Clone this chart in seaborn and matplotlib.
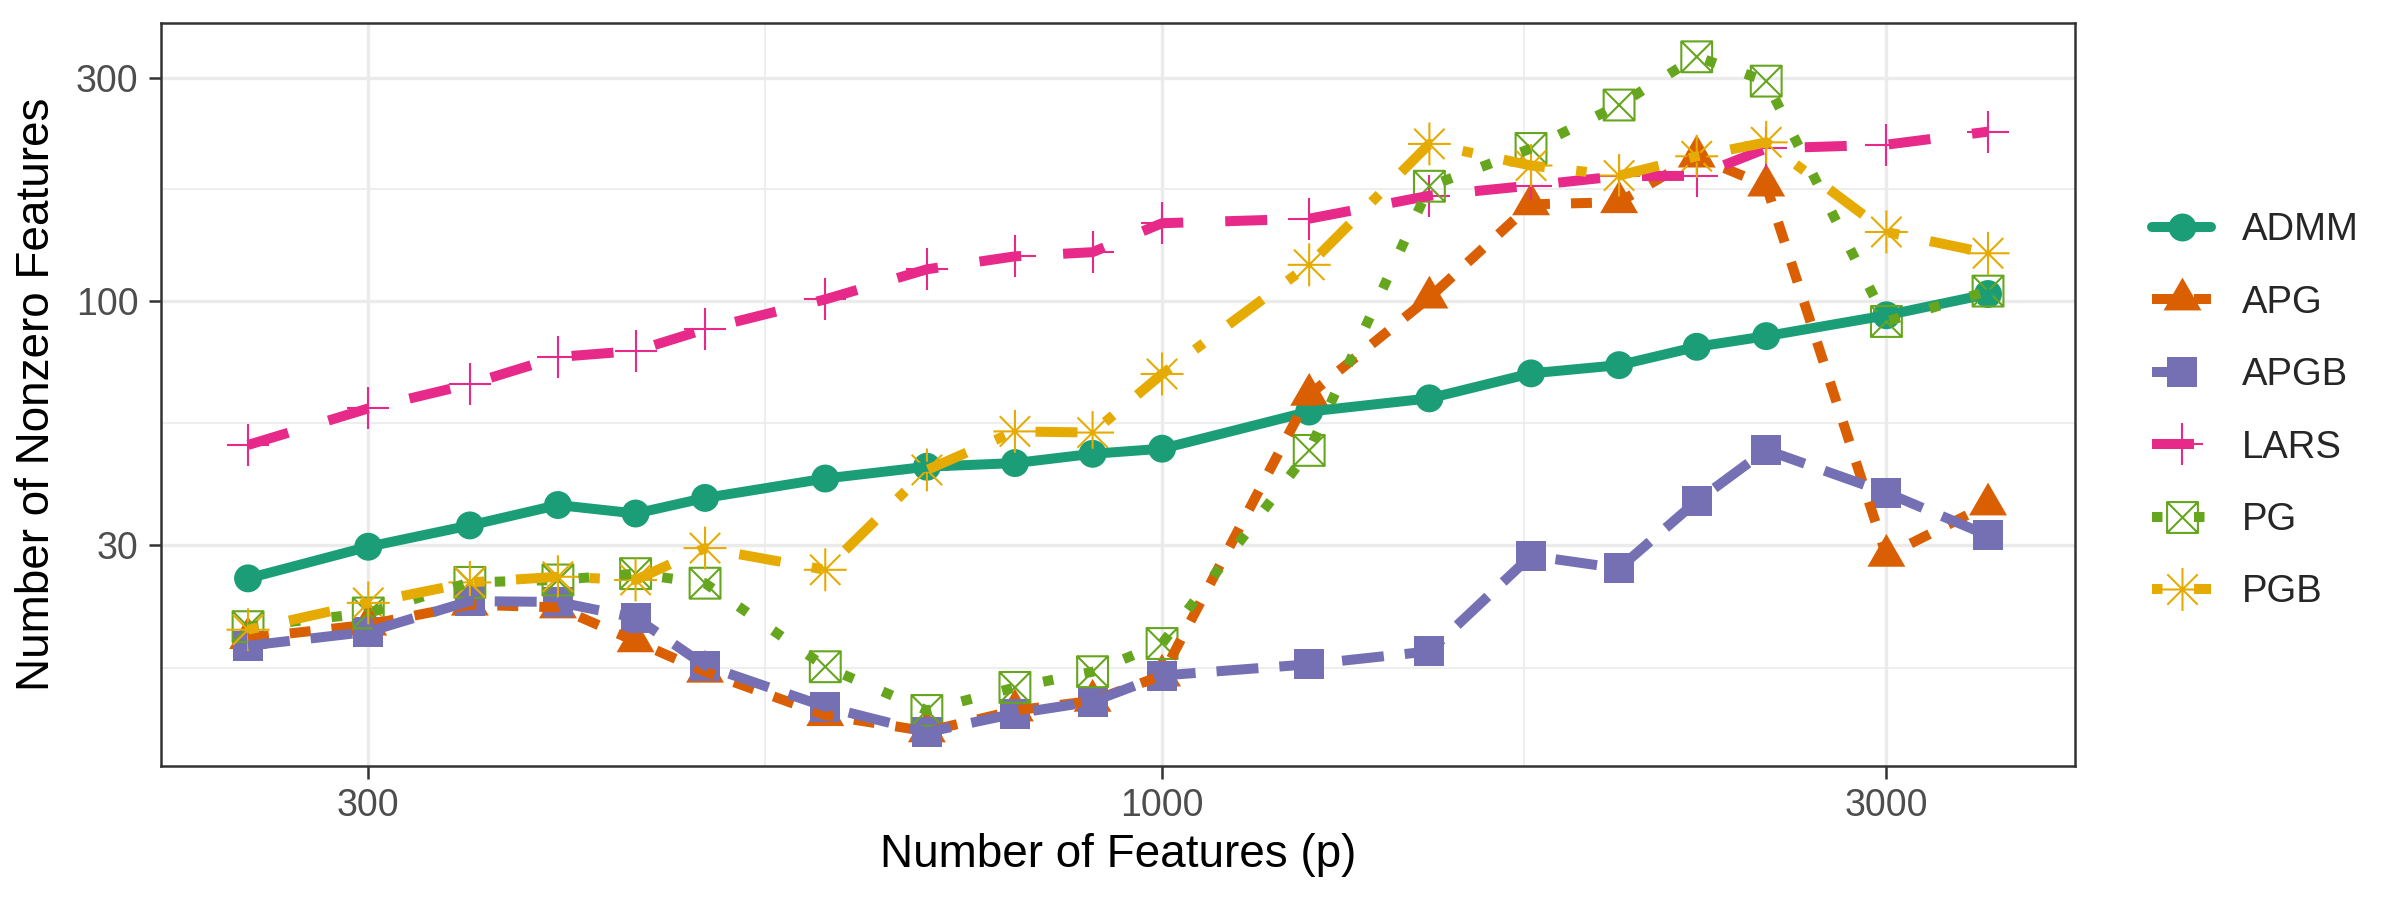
import numpy as np
import pandas as pd
import matplotlib
matplotlib.use("Agg")
import matplotlib.pyplot as plt
from matplotlib.path import Path
from matplotlib.lines import Line2D
from matplotlib.ticker import NullFormatter
import seaborn as sns

# Data
p_values = [250, 300, 350, 400, 450, 500, 600, 700, 800, 900, 1000,
            1250, 1500, 1750, 2000, 2250, 2500, 3000, 3500]

admm = [25.5, 29.8, 33.1, 36.6, 35.1, 37.9, 41.7, 44.2, 45.0, 47.1, 48.3,
        58.0, 61.9, 70.0, 72.9, 79.8, 84.1, 93.2, 103.5]
apg = [19.0, 20.3, 22.4, 22.1, 18.7, 16.1, 13.0, 12.0, 13.3, 13.95, 15.8,
       63.0, 101.7, 161.0, 162.7, 203.7, 176.6, 28.5, 36.7]
apgb = [18.3, 19.6, 22.8, 22.7, 21.0, 16.6, 13.55, 11.95, 13.1, 13.9, 15.8,
        16.7, 17.8, 28.5, 26.8, 37.3, 48.0, 38.9, 31.5]
lars = [49.2, 58.9, 66.4, 75.9, 78.2, 87.0, 100.8, 116.9, 124.6, 127.2, 146.7,
        150.0, 168.0, 176.6, 185.0, 185.2, 212.0, 216.0, 230.3]
pg = [20.1, 21.5, 25.0, 25.3, 26.1, 24.9, 16.5, 13.3, 14.9, 16.1, 18.5,
      47.9, 176.0, 212.0, 262.6, 333.0, 295.4, 90.4, 105.0]
pgb = [19.8, 22.6, 25.0, 25.7, 25.3, 29.6, 26.6, 43.5, 52.6, 52.3, 69.8,
       119.5, 216.8, 194.9, 185.5, 204.0, 218.5, 140.5, 126.5]

methods = ["ADMM", "APG", "APGB", "LARS", "PG", "PGB"]
series = [admm, apg, apgb, lars, pg, pgb]

x_breaks = [300, 1000, 3000]
y_breaks = [30, 100, 300]

# long format table for seaborn
df = pd.DataFrame({
    "p": np.tile(p_values, len(methods)),
    "nonzero": np.concatenate(series),
    "method": np.repeat(methods, len(p_values)),
})

# Dark2 palette like ggplot
colors = dict(zip(methods, sns.color_palette("Dark2", 6).as_hex()))

# ggplot linetypes: solid, 22, 42, 44, 13, 1343
u = 1.05
dashes = {
    "ADMM": "",
    "APG": (2 * u, 2 * u),
    "APGB": (4 * u, 2 * u),
    "LARS": (4 * u, 4 * u),
    "PG": (1 * u, 3 * u),
    "PGB": (1 * u, 3 * u, 4 * u, 3 * u),
}

# custom marker shapes
tri = Path([(0, 1), (-0.866, -0.5), (0.866, -0.5), (0, 1)],
           [Path.MOVETO, Path.LINETO, Path.LINETO, Path.CLOSEPOLY])
boxx = Path([(-1, -1), (1, -1), (1, 1), (-1, 1), (-1, -1),
             (-1, -1), (1, 1), (-1, 1), (1, -1)],
            [Path.MOVETO, Path.LINETO, Path.LINETO, Path.LINETO, Path.CLOSEPOLY,
             Path.MOVETO, Path.LINETO, Path.MOVETO, Path.LINETO])
d = np.sqrt(0.5)
star = Path([(0, -1), (0, 1), (-1, 0), (1, 0), (-d, -d), (d, d), (-d, d), (d, -d)],
            [Path.MOVETO, Path.LINETO] * 4)

# marker, size (pt), filled
marker_style = {
    "ADMM": ("o", 6.7, True),
    "APG": (tri, 10.5, True),
    "APGB": ("s", 7.2, True),
    "LARS": ("+", 10.3, False),
    "PG": (boxx, 7.4, False),
    "PGB": (star, 10.3, False),
}

sns.set_theme(style="white")
plt.rcParams["font.family"] = ["Liberation Sans", "DejaVu Sans"]

fig = plt.figure(figsize=(8, 3), dpi=300)
fig.subplots_adjust(left=0.0671, right=0.8646, top=0.9744, bottom=0.1489)
ax = fig.add_subplot(111)

lw = 2.4

# points first (under the lines, like geom_point before geom_line)
for m in methods:
    sub = df[df["method"] == m]
    mk, ms, filled = marker_style[m]
    c = colors[m]
    if filled:
        sns.scatterplot(data=sub, x="p", y="nonzero", marker=mk, s=ms ** 2,
                        color=c, edgecolor="none", linewidth=0, zorder=2,
                        legend=False, ax=ax)
    elif mk == "+":
        sns.scatterplot(data=sub, x="p", y="nonzero", marker=mk, s=ms ** 2,
                        color=c, linewidth=0.5, zorder=2, legend=False, ax=ax)
    else:
        sns.scatterplot(data=sub, x="p", y="nonzero", marker=mk, s=ms ** 2,
                        facecolor="none", edgecolor=c, linewidth=0.5, zorder=2,
                        legend=False, ax=ax)

sns.lineplot(data=df, x="p", y="nonzero", hue="method", style="method",
             hue_order=methods, style_order=methods, palette=colors,
             dashes=dashes, markers=False, linewidth=lw, errorbar=None,
             zorder=3, legend=False, ax=ax)

ax.set_xscale("log")
ax.set_yscale("log")


def log_limits(vals):
    lo, hi = np.log10(min(vals)), np.log10(max(vals))
    pad = 0.05 * (hi - lo)
    return 10 ** (lo - pad), 10 ** (hi + pad)


ax.set_xlim(*log_limits(p_values))
ax.set_ylim(*log_limits(np.concatenate(series)))

ax.set_xticks(x_breaks)
ax.set_xticklabels([str(v) for v in x_breaks])
ax.set_yticks(y_breaks)
ax.set_yticklabels([str(v) for v in y_breaks])
# minor breaks halfway (log space) between majors, as ggplot does
ax.set_xticks([np.sqrt(300 * 1000), np.sqrt(1000 * 3000)], minor=True)
ax.set_yticks([30 / np.sqrt(100 / 30), np.sqrt(30 * 100), np.sqrt(100 * 300)], minor=True)
ax.xaxis.set_minor_formatter(NullFormatter())
ax.yaxis.set_minor_formatter(NullFormatter())

ax.grid(which="major", color="#EBEBEB", linewidth=0.8)
ax.grid(which="minor", color="#EBEBEB", linewidth=0.4)
ax.set_axisbelow(True)
for sp in ax.spines.values():
    sp.set_visible(True)
    sp.set_color("#333333")
    sp.set_linewidth(0.6)
ax.tick_params(which="major", length=3, width=0.6, color="#333333",
               labelsize=9, labelcolor="#4D4D4D", pad=2.4,
               bottom=True, left=True)
ax.tick_params(which="minor", length=0)

ax.set_xlabel("Number of Features (p)", fontsize=11, color="black", labelpad=2)
ax.set_ylabel("Number of Nonzero Features", fontsize=11, color="black", labelpad=4)

# legend keys: line + point
handles = []
for m in methods:
    mk, ms, filled = marker_style[m]
    c = colors[m]
    ls = "-" if dashes[m] == "" else (0, dashes[m])
    h = Line2D([], [], color=c, linewidth=lw, linestyle=ls, marker=mk,
               markersize=ms, markerfacecolor=c if filled else "none",
               markeredgecolor=c, markeredgewidth=0 if filled else 0.5)
    if mk == "+":
        h.set_markeredgewidth(0.5)
    handles.append(h)

fig.legend(handles, methods, loc="center left", bbox_to_anchor=(0.8967, 0.543),
           bbox_transform=fig.transFigure, frameon=False, fontsize=9.2,
           handlelength=1.55, handletextpad=0.8, labelspacing=0.95,
           borderpad=0, borderaxespad=0, numpoints=1)

fig.savefig("out.png", dpi=300)
